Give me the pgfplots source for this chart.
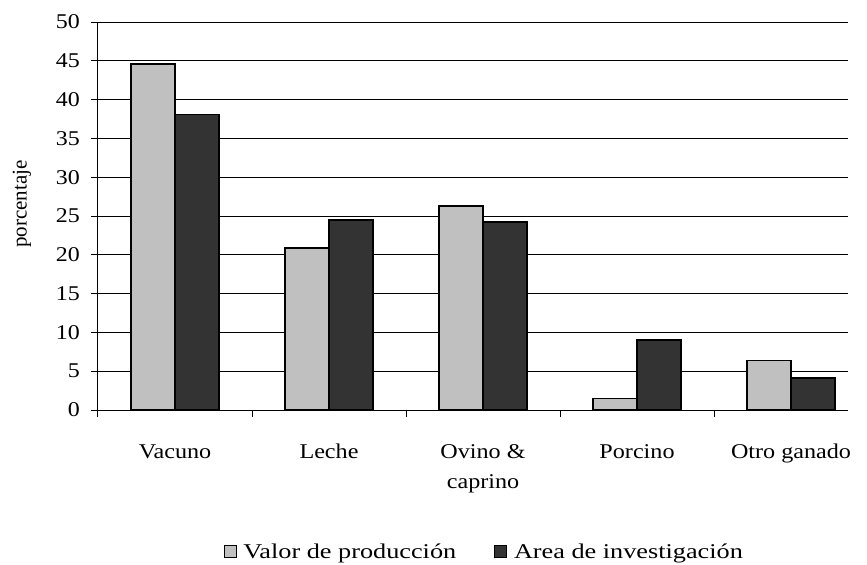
\documentclass[border=0pt]{standalone}
\usepackage{pgfplots}
\pgfplotsset{compat=1.18}
\usepackage{fontspec}
\setmainfont{Liberation Serif}
\newcommand{\st}[1]{\scalebox{1.15}[1]{#1}}
\newcommand{\slg}[1]{\scalebox{1.25}[1]{#1}}
\newcommand{\tl}[1]{\st{\begin{tabular}[t]{@{}c@{}}#1\end{tabular}}}
\newcommand{\fs}{\fontsize{21bp}{30bp}\selectfont}
\definecolor{lg}{HTML}{C0C0C0}
\definecolor{dg}{HTML}{333333}
\begin{document}
\begin{tikzpicture}
\useasboundingbox (-98bp,-155bp) rectangle (769bp,410bp);
\begin{axis}[
  font=\fs,
  /pgf/number format/assume math mode=true,
  scale only axis, width=750bp, height=388bp,
  ybar=0pt, bar width=44bp,
  xmin=-0.5, xmax=4.37, ymin=0, ymax=50,
  axis x line*=bottom, axis y line*=left,
  axis line style={-, black, line width=1bp},
  xtick={0,1,2,3,4},
  xticklabels={\tl{Vacuno},\tl{Leche},\tl{Ovino \&\\caprino},\tl{Porcino},\tl{Otro ganado}},
  major x tick style={draw=none},
  minor xtick={-0.5,0.5,1.5,2.5,3.5},
  minor tick length=7bp,
  major tick length=7bp,
  tick align=outside,
  tick style={black, line width=1bp},
  ytick={0,5,...,50},
  yticklabel={\scalebox{1.14}[1]{\pgfmathprintnumber{\tick}}},
  tick label style={font=\fs},
  label style={font=\fs},
  xticklabel style={inner sep=0pt, yshift=-20bp},
  yticklabel style={inner sep=0pt, xshift=-11bp},
  ymajorgrids,
  major grid style={black, line width=0.8bp},
  ylabel={porcentaje},
  ylabel style={at={(axis description cs:-0.1013,0.531)}, anchor=center},
  legend columns=2,
  legend style={draw=none, fill=none, font=\fs, at={(axis description cs:0.515,-0.365)}, anchor=center,
    /tikz/every odd column/.append style={column sep=5bp},
    /tikz/every even column/.append style={column sep=36bp}},
]
\addplot[fill=lg, draw=black, line width=1.5bp,
  legend image code/.code={\draw[fill=lg,draw=black,line width=0.8bp] (0bp,-6bp) rectangle (12bp,6bp);}]
  coordinates {(0,44.6) (1,20.9) (2,26.3) (3,1.5) (4,6.4)};
\addplot[fill=dg, draw=black, line width=1.5bp,
  legend image code/.code={\draw[fill=dg,draw=black,line width=0.8bp] (0bp,-6bp) rectangle (12bp,6bp);}]
  coordinates {(0,38.1) (1,24.5) (2,24.2) (3,9.0) (4,4.1)};
\legend{\slg{Valor de producción},\slg{Area de investigación}}
\end{axis}
\end{tikzpicture}
\end{document}
